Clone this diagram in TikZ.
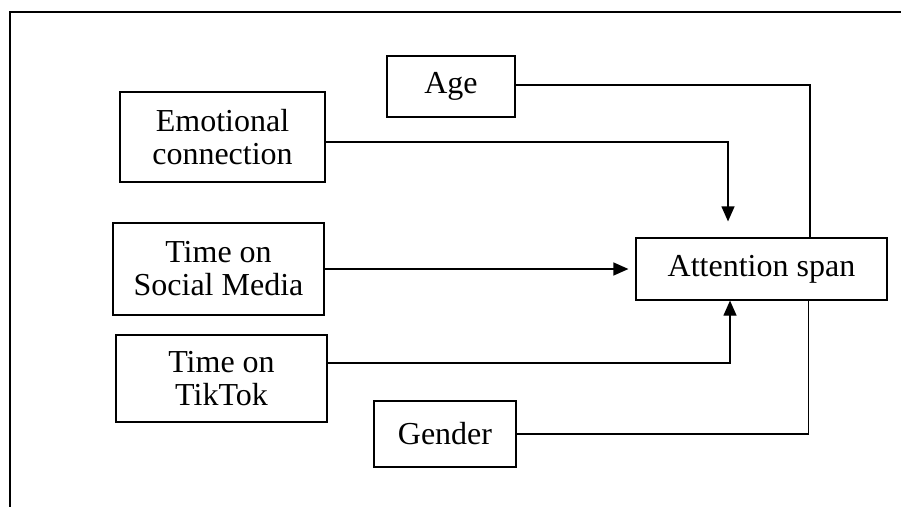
\documentclass[tikz,border=0pt]{standalone}
\usepackage{fontspec}
\setmainfont{Liberation Serif}
\usetikzlibrary{positioning,arrows.meta}

\begin{document}
\begin{tikzpicture}[x=1pt,y=-1pt]
\tikzset{
    factor/.style={rectangle, draw, line width=1.2pt, align=center, inner sep=0pt,
        font=\fontsize{32}{33}\selectfont},
    outcome/.style={factor, minimum width=251pt, minimum height=62pt},
    every node/.style={text centered},
    edge/.style={-{Triangle[length=15pt,width=13pt]}, line width=1.2pt},
    link/.style={line width=1.2pt},
    frame/.style={line width=2.5pt}
}
\useasboundingbox (0,0) rectangle (901,506);

% Rahmen (nur oben und links sichtbar)
\draw[frame] (10,507) -- (10,12) -- (902,12);

% Knoten
\node[factor, minimum width=128pt, minimum height=61pt] (age) at (451,86.5) {Age};
\node[factor, minimum width=205pt, minimum height=90pt] (emo) at (222.5,137) {Emotional\\connection};
\node[factor, minimum width=211pt, minimum height=92pt] (soc) at (218.5,269) {Time on\\Social Media};
\node[factor, minimum width=211pt, minimum height=87pt] (tik) at (221.5,378.5) {Time on\\TikTok};
\node[factor, minimum width=142pt, minimum height=66pt] (gen) at (445,434) {Gender};
\node[outcome] (attn) at (761.5,269) {Attention span};

% Pfeile in die Aufmerksamkeitsspanne
\draw[edge] ([yshift=-5pt]emo.east) -| ([xshift=-33.5pt, yshift=16pt]attn.north);
\draw[edge, shorten >=7pt] (soc.east) -- (attn.west);
\draw[edge] ([yshift=15.5pt]tik.east) -| ([xshift=-31.5pt]attn.south);

% Linien ohne Pfeilspitze
\draw[link] ([yshift=1.5pt]age.east) -| ([xshift=48.5pt]attn.north);
\draw[link] (gen.east) -| ([xshift=47pt]attn.south);
\end{tikzpicture}
\end{document}
